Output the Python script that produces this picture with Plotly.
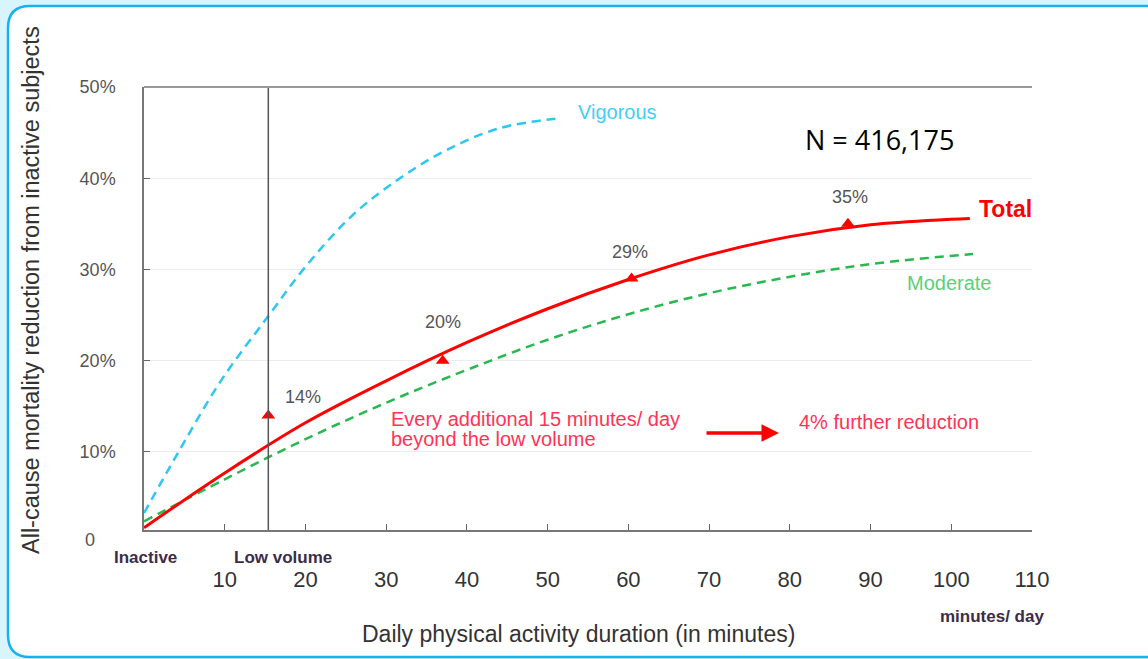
import plotly.graph_objects as go

# ---------------- data ----------------
total_x = [0, 10, 20, 30, 40, 50, 60, 70, 80, 90, 100, 102.3]
total_y = [1.7, 7.7, 13.2, 17.8, 22.0, 25.7, 28.9, 31.6, 33.6, 34.9, 35.5, 35.6]

moderate_x = [0, 10, 20, 30, 40, 50, 60, 70, 80, 90, 102.7]
moderate_y = [2.4, 7.0, 11.4, 15.4, 19.0, 22.3, 25.1, 27.4, 29.2, 30.6, 31.7]

vigorous_x = [0, 4.4, 9.6, 15.4, 20.1, 25.9, 31.7, 37.5, 44.1, 51.7]
vigorous_y = [3.3, 10.2, 17.9, 24.9, 30.4, 36.0, 40.0, 43.1, 45.5, 46.6]

point_x = [15.4, 37.0, 60.4, 87.2]
point_y = [14, 20, 29, 35]
point_labels = ["14%", "20%", "29%", "35%"]

x_ticks = [10, 20, 30, 40, 50, 60, 70, 80, 90, 100, 110]
y_ticks = [10, 20, 30, 40, 50]
y_tick_labels = ["10%", "20%", "30%", "40%", "50%"]
low_volume_x = 15.4

# ---------------- layout constants ----------------
W, H = 1148, 659
ML, MR, MT, MB = 144, 116, 87, 129
PW, PH = W - ML - MR, H - MT - MB

def px_x(px):
    return (px - ML) / PW

def px_y(py):
    return (H - MB - py) / PH

FONT = "Liberation Sans, Arial, sans-serif"
RED = "#ff0000"
BLUE = "#2ec6f5"
GREEN = "#27b94f"
TXT_RED = "#ff3355"
DARK = "#3b2d4a"

fig = go.Figure()

fig.add_trace(go.Scatter(x=vigorous_x, y=vigorous_y, mode="lines",
                         line=dict(color=BLUE, width=2.5, dash="9px,6px", shape="spline"),
                         hoverinfo="skip"))
fig.add_trace(go.Scatter(x=moderate_x, y=moderate_y, mode="lines",
                         line=dict(color=GREEN, width=2.5, dash="9px,6px", shape="spline"),
                         hoverinfo="skip"))
fig.add_trace(go.Scatter(x=total_x, y=total_y, mode="lines",
                         line=dict(color=RED, width=3, shape="spline"),
                         hoverinfo="skip"))
fig.add_trace(go.Scatter(x=point_x, y=point_y, mode="markers",
                         marker=dict(symbol="triangle-up", size=12, color=RED),
                         hoverinfo="skip"))

def txt(px, py, text, size, color, family=FONT, **kw):
    d = dict(x=px_x(px), y=px_y(py), xref="paper", yref="paper", text=text,
             showarrow=False, xanchor="center", yanchor="middle",
             font=dict(family=family, size=size, color=color))
    d.update(kw)
    return d

annotations = []
label_pos = [(303, 397), (443, 322), (630, 252), (850, 197)]
for (lx, ly), t in zip(label_pos, point_labels):
    annotations.append(txt(lx, ly, t, 18, "#555555"))

annotations += [
    txt(617, 112, "Vigorous", 20, "#45cdf7"),
    txt(949, 283, "Moderate", 20, "#5ccf7a"),
    txt(1005, 209, "<b>Total</b>", 23, RED),
    txt(879, 139, "N = 416,175", 27, "#000000", family="Open Sans, Noto Sans, sans-serif"),
    txt(389, 419, "Every additional 15 minutes/ day", 20, TXT_RED, xanchor="left"),
    txt(389, 439, "beyond the low volume", 20, TXT_RED, xanchor="left"),
    txt(889, 422, "4% further reduction", 20, TXT_RED),
    # arrow
    dict(x=px_x(779), y=px_y(433), xref="paper", yref="paper", text="",
         showarrow=True, arrowhead=2, arrowsize=1.0, arrowwidth=3.5, arrowcolor=RED,
         ax=-74, ay=0, standoff=0),
    # y "0" label
    txt(90, 540, "0", 18, "#555555"),
    # category labels under axis
    txt(145, 557, "<b>Inactive</b>", 17, DARK),
    txt(283, 557, "<b>Low volume</b>", 17, DARK),
    txt(992, 616, "<b>minutes/ day</b>", 17, DARK),
    # axis titles
    txt(578, 634, "Daily physical activity duration (in minutes)", 23, "#333333"),
    txt(31, 290, "All-cause mortality reduction from inactive subjects", 23.5, "#333333",
        textangle=-90),
]

# rounded frame
fx0, fy0, fx1, fy1, r = 8, 6, 1175, 657, 22
def P(px, py):
    return f"{px_x(px):.5f},{px_y(py):.5f}"
frame_path = (f"M {P(fx0 + r, fy0)} L {P(fx1 - r, fy0)} Q {P(fx1, fy0)} {P(fx1, fy0 + r)} "
              f"L {P(fx1, fy1 - r)} Q {P(fx1, fy1)} {P(fx1 - r, fy1)} "
              f"L {P(fx0 + r, fy1)} Q {P(fx0, fy1)} {P(fx0, fy1 - r)} "
              f"L {P(fx0, fy0 + r)} Q {P(fx0, fy0)} {P(fx0 + r, fy0)} Z")

shapes = [
    dict(type="path", path=frame_path, xref="paper", yref="paper", layer="below",
         fillcolor="#ffffff", line=dict(color="#16b2f0", width=2.5)),
    dict(type="line", xref="x", yref="paper", x0=low_volume_x, x1=low_volume_x, y0=0, y1=1,
         line=dict(color="#555555", width=1.5)),
    dict(type="line", xref="paper", yref="paper", x0=0, x1=1, y0=1, y1=1,
         line=dict(color="#999999", width=2)),
]

fig.update_layout(
    width=W, height=H,
    margin=dict(l=ML, r=MR, t=MT, b=MB),
    paper_bgcolor="#d8f4fc",
    plot_bgcolor="rgba(0,0,0,0)",
    showlegend=False,
    annotations=annotations,
    shapes=shapes,
    xaxis=dict(range=[0, 110], tickvals=x_ticks, ticks="inside", ticklen=6,
               tickcolor="#666666", showgrid=False, zeroline=False,
               showline=True, linecolor="#777777", linewidth=2,
               tickfont=dict(family=FONT, size=22, color="#333333"),
               ticklabelstandoff=29),
    yaxis=dict(range=[1.45, 50.0], tickvals=y_ticks, ticktext=y_tick_labels,
               ticks="inside", ticklen=6, tickcolor="#666666",
               showgrid=True, gridcolor="#ececec", gridwidth=1, zeroline=False,
               showline=True, linecolor="#777777", linewidth=1.5,
               tickfont=dict(family=FONT, size=18, color="#555555"),
               ticklabelstandoff=23),
)

fig.write_html(
    "out.html",
    config={"displayModeBar": False},
    post_script="document.body.style.margin='0';"
                "document.body.style.background='#d8f4fc';"
                "document.documentElement.style.overflow='hidden';",
)
